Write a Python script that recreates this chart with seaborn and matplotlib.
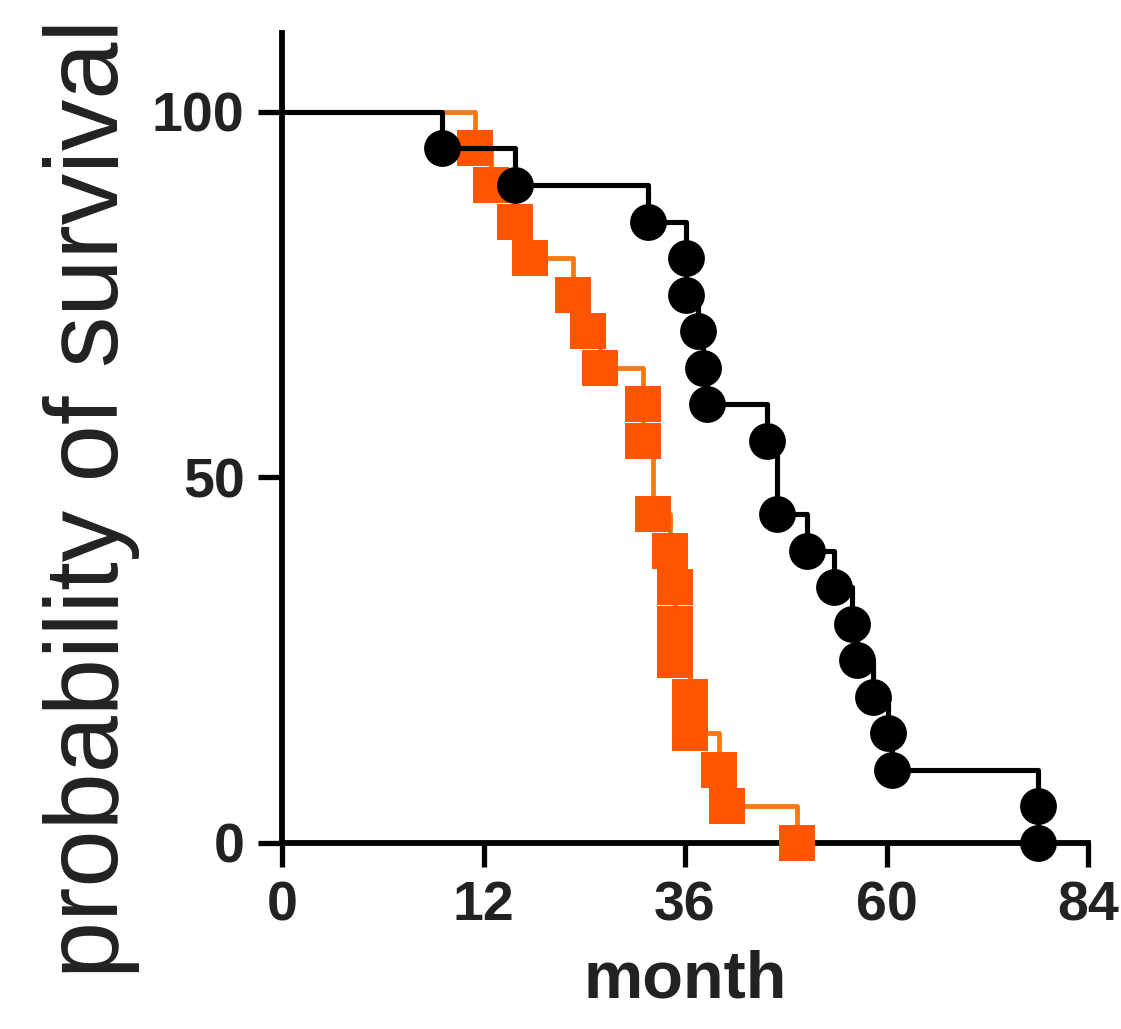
import numpy as np
import pandas as pd
import matplotlib
matplotlib.use("Agg")
import matplotlib.pyplot as plt
import seaborn as sns

# ---- data ----
BLACK_MONTHS = [0, 16.7, 24.3, 38.1, 42.1, 42.1, 43.4, 43.9, 44.3, 50.5, 51.6,
                54.7, 57.5, 59.4, 59.9, 61.6, 63.2, 63.6, 78.8, 78.8]
BLACK_SURV = [100, 95, 90, 85, 80, 75, 70, 65, 60, 55, 45,
              40, 35, 30, 25, 20, 15, 10, 5, 0]

ORANGE_MONTHS = [0, 20.1, 21.8, 24.3, 25.8, 30.3, 31.9, 33.1, 37.6, 37.6, 38.7,
                 40.4, 41.0, 41.0, 41.0, 42.5, 42.5, 45.5, 46.4, 53.7]
ORANGE_SURV = [100, 95, 90, 85, 80, 75, 70, 65, 60, 55, 45,
               40, 35, 30, 25, 20, 15, 10, 5, 0]

X_TICKS = [0, 21, 42, 63, 84]
X_TICK_LABELS = ["0", "12", "36", "60", "84"]
Y_TICKS = [0, 50, 100]

BLACK = "#000000"
ORANGE_LINE = "#F97A12"
ORANGE_MARK = "#FF5500"

sns.set_theme(style="ticks")
plt.rcParams["font.family"] = ["Liberation Sans", "DejaVu Sans"]

df_b = pd.DataFrame({"month": BLACK_MONTHS, "survival": BLACK_SURV})
df_o = pd.DataFrame({"month": ORANGE_MONTHS, "survival": ORANGE_SURV})

fig = plt.figure(figsize=(11.21, 10.29), dpi=100)
ax = fig.add_axes([0.2516, 0.1808, 0.7190, 0.7872])

sns.lineplot(data=df_o, x="month", y="survival", color=ORANGE_LINE, lw=3.5,
             drawstyle="steps-post", estimator=None, sort=False, ax=ax, zorder=3)
sns.scatterplot(data=df_o.iloc[1:], x="month", y="survival", marker="s",
                s=25.5 ** 2, color=ORANGE_MARK, linewidth=0, ax=ax, zorder=4,
                clip_on=False)
sns.lineplot(data=df_b, x="month", y="survival", color=BLACK, lw=3.7,
             drawstyle="steps-post", estimator=None, sort=False, ax=ax, zorder=5)
sns.scatterplot(data=df_b.iloc[1:], x="month", y="survival", marker="o",
                s=26.5 ** 2, color=BLACK, linewidth=0, ax=ax, zorder=6,
                clip_on=False)

ax.set_xlim(0, 84)
ax.set_ylim(0, 110.8)
ax.set_xticks(X_TICKS)
ax.set_xticklabels(X_TICK_LABELS)
ax.set_yticks(Y_TICKS)

for side in ["top", "right"]:
    ax.spines[side].set_visible(False)
for side in ["left", "bottom"]:
    ax.spines[side].set_linewidth(4.2)
    ax.spines[side].set_color(BLACK)

ax.tick_params(axis="both", direction="out", length=17, width=3.8,
               color=BLACK, labelsize=40, pad=10, labelcolor="#222222")
for lbl in ax.get_xticklabels() + ax.get_yticklabels():
    lbl.set_fontweight("bold")

ax.set_xlabel("month", fontsize=48, fontweight="bold", color="#222222", labelpad=12)
ax.set_ylabel("probability of survival", fontsize=74, color="#222222")
ax.yaxis.set_label_coords(-0.176, 0.425)

fig.savefig("out.png", dpi=100)
